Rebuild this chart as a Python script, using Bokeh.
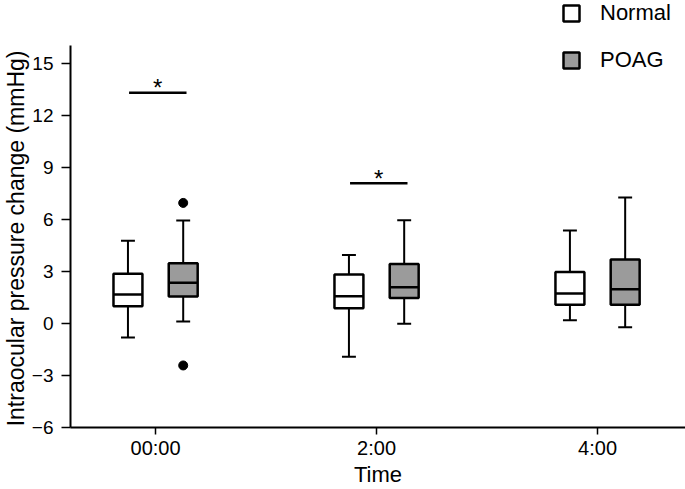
from bokeh.plotting import figure
from bokeh.models import FixedTicker, Legend, LegendItem, ColumnDataSource, Range1d, Title
from bokeh.core.properties import value
from bokeh.embed import file_html
from bokeh.resources import INLINE

# ---- data ----
times = ["00:00", "2:00", "4:00"]
y_ticks = [-6, -3, 0, 3, 6, 9, 12, 15]

normal_low = [-0.81, -1.92, 0.19]
normal_q1 = [1.00, 0.88, 1.08]
normal_med = [1.67, 1.58, 1.73]
normal_q3 = [2.87, 2.83, 2.98]
normal_high = [4.77, 3.96, 5.37]

poag_low = [0.12, -0.02, -0.21]
poag_q1 = [1.56, 1.48, 1.08]
poag_med = [2.35, 2.09, 1.98]
poag_q3 = [3.48, 3.44, 3.69]
poag_high = [5.94, 5.96, 7.27]

poag_outlier_time = ["00:00", "00:00"]
poag_outlier_vals = [6.96, -2.42]

sig_time = ["00:00", "2:00"]
sig_level = [13.31, 8.1]

FONT = "Liberation Sans"
OFF = 0.125
BOXW = 0.131
CAPW = 0.063
Y_AXIS_TOP = 16.05

p = figure(width=685, height=489, output_backend="svg", toolbar_location=None,
           x_range=Range1d(-0.385, 2.398), y_range=Range1d(-6, 18.64),
           min_border_left=70, min_border_right=0, min_border_top=0, min_border_bottom=61)
p.outline_line_color = None
p.xgrid.visible = False
p.ygrid.visible = False
p.background_fill_color = None
p.border_fill_color = "white"

idx = {t: i for i, t in enumerate(times)}

def draw(offset, low, q1, med, q3, high, fill):
    xs = [i + offset for i in range(len(times))]
    src = ColumnDataSource(dict(x=xs, low=low, q1=q1, med=med, q3=q3, high=high,
                                cl=[x - CAPW / 2 for x in xs], cr=[x + CAPW / 2 for x in xs],
                                bl=[x - BOXW / 2 for x in xs], br=[x + BOXW / 2 for x in xs]))
    p.segment(x0="x", y0="q3", x1="x", y1="high", source=src, line_color="black", line_width=2)
    p.segment(x0="x", y0="low", x1="x", y1="q1", source=src, line_color="black", line_width=2)
    p.segment(x0="cl", y0="high", x1="cr", y1="high", source=src, line_color="black", line_width=2)
    p.segment(x0="cl", y0="low", x1="cr", y1="low", source=src, line_color="black", line_width=2)
    r = p.vbar(x="x", width=BOXW, bottom="q1", top="q3", source=src, fill_color=fill,
               line_color="black", line_width=2.5)
    p.segment(x0="bl", y0="med", x1="br", y1="med", source=src, line_color="black", line_width=2.5)
    return r

r_normal = draw(-OFF, normal_low, normal_q1, normal_med, normal_q3, normal_high, "white")
r_poag = draw(OFF, poag_low, poag_q1, poag_med, poag_q3, poag_high, "#9b9b9b")

p.scatter([idx[t] + OFF for t in poag_outlier_time], poag_outlier_vals, size=9,
          fill_color="black", line_color="black")

sx = [idx[t] for t in sig_time]
p.segment(x0=[x - 0.12 for x in sx], y0=sig_level, x1=[x + 0.14 for x in sx], y1=sig_level,
          line_color="black", line_width=2.5)
p.text(x=[x + 0.01 for x in sx], y=sig_level, text=["*"] * len(sx), text_align="center",
       text_baseline="alphabetic", text_font=value(FONT), text_font_size="24px",
       text_color="black", y_offset=-5)

# axes
for ax in (p.xaxis[0], p.yaxis[0]):
    ax.axis_line_width = 2
    ax.axis_line_color = "black"
    ax.major_tick_line_color = "black"
    ax.major_tick_line_width = 1.5
    ax.major_tick_out = 8
    ax.major_tick_in = 0
    ax.minor_tick_line_color = None
    ax.major_label_text_font = FONT
    ax.major_label_text_color = "black"
    ax.axis_label_text_font = FONT
    ax.axis_label_text_font_style = "normal"
    ax.axis_label_text_color = "black"
    ax.axis_label_text_font_size = "22px"

p.xaxis.ticker = FixedTicker(ticks=list(range(len(times))))
p.xaxis.major_label_overrides = {i: t for i, t in enumerate(times)}
p.xaxis.major_label_text_font_size = "20px"
p.xaxis.major_tick_out = 7
p.xaxis.major_label_standoff = 2
p.xaxis.axis_label = "Time"
p.xaxis.axis_label_standoff = 0

p.yaxis.ticker = FixedTicker(ticks=y_ticks)
p.yaxis.bounds = (-6, Y_AXIS_TOP)
p.yaxis.major_label_text_font_size = "19px"
p.yaxis.major_tick_out = 9
p.yaxis.major_label_standoff = 8

ylab = Title(text="Intraocular pressure change (mmHg)", align="right", offset=50,
             text_font=FONT, text_font_size="23px", text_font_style="normal",
             text_color="black", standoff=0)
p.add_layout(ylab, "left")

legend = Legend(items=[LegendItem(label="Normal", renderers=[r_normal]),
                       LegendItem(label="POAG", renderers=[r_poag])],
                location=(491, 354), orientation="vertical",
                glyph_width=20, glyph_height=20, label_height=25, spacing=21,
                label_standoff=19, padding=0, margin=0,
                border_line_color=None, background_fill_alpha=0,
                label_text_font=FONT, label_text_font_size="22px", label_text_color="black")
p.add_layout(legend, "center")

open("out.html", "w").write(file_html(p, INLINE))
